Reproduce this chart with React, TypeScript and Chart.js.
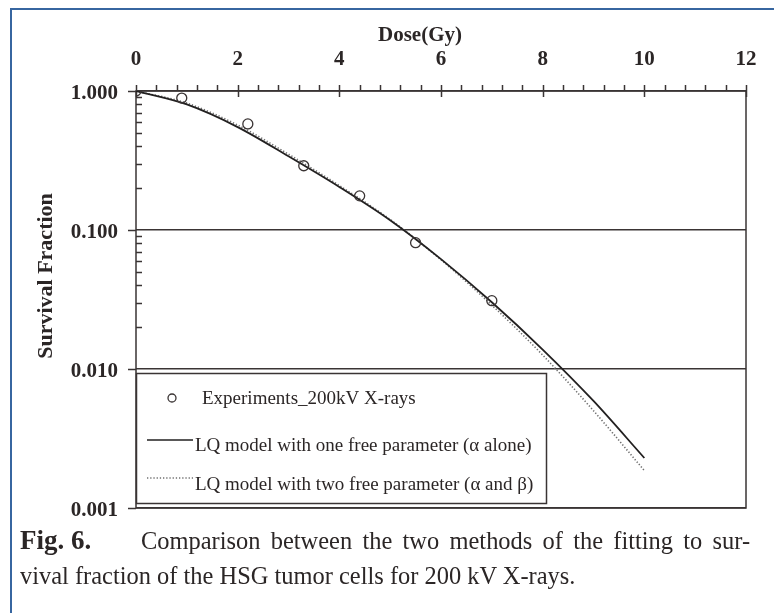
import React, { useEffect, useRef } from "react";
import { Chart, registerables } from "chart.js";

Chart.register(...registerables);

// ---- data ----
const expDose = [0, 0.9, 2.2, 3.3, 4.4, 5.5, 7.0];
const expSF = [1.0, 0.89, 0.58, 0.29, 0.176, 0.081, 0.031];

const curveDose = [0, 1, 2, 3, 4, 5, 6, 7, 8, 9, 10];
const oneParamSF = [1, 0.8, 0.55, 0.339, 0.204, 0.1175, 0.0617, 0.0302, 0.0138, 0.00589, 0.00229];
const twoParamSF = [1, 0.818, 0.569, 0.351, 0.209, 0.119, 0.061, 0.0288, 0.0126, 0.00501, 0.00186];

const xMin = 0;
const xMax = 12;
const xStep = 2;
const xMinorStep = 0.4;
const yTickValues = [0.001, 0.01, 0.1, 1];
const yTickLabels = ["0.001", "0.010", "0.100", "1.000"];

const seriesLabels = [
  "Experiments_200kV X-rays",
  "LQ model with one free parameter (\u03B1 alone)",
  "LQ model with two free parameter (\u03B1 and \u03B2)",
];
const xTitle = "Dose(Gy)";
const yTitle = "Survival Fraction";
const captionBold = "Fig. 6.";
const captionLine1 = "Comparison between the two methods of the fitting to sur-";
const captionLine2 = "vival fraction of the HSG tumor cells for 200 kV X-rays.";

// ---- styles ----
const FONT = "'Liberation Serif', 'Times New Roman', serif";
const INK = "#2b2626";
const AXIS = "#3a3434";
const DOT = "#707070";

const decorPlugin = {
  id: "decor",
  beforeDatasetsDraw(chart: any) {
    const { ctx, chartArea: a, scales } = chart;
    const x = scales.x;
    const y = scales.y;
    ctx.save();
    ctx.strokeStyle = AXIS;
    ctx.lineWidth = 1.5;
    ctx.strokeRect(a.left, a.top, a.right - a.left, a.bottom - a.top);
    ctx.beginPath();
    // x ticks (top axis)
    const n = Math.round((xMax - xMin) / xMinorStep);
    for (let i = 0; i <= n; i++) {
      const v = xMin + i * xMinorStep;
      const px = Math.round(x.getPixelForValue(v)) + 0.5;
      const r = v / xStep;
      const major = Math.abs(r - Math.round(r)) < 1e-6;
      ctx.moveTo(px, a.top - 6);
      ctx.lineTo(px, a.top + (major ? 6 : 0));
    }
    // y ticks
    for (let d = 0; d < yTickValues.length; d++) {
      const dec = yTickValues[d];
      const py = Math.round(y.getPixelForValue(dec)) + 0.5;
      ctx.moveTo(a.left - 8, py);
      ctx.lineTo(a.left, py);
      if (d < yTickValues.length - 1) {
        for (let m = 2; m <= 9; m++) {
          const pm = Math.round(y.getPixelForValue(dec * m)) + 0.5;
          ctx.moveTo(a.left, pm);
          ctx.lineTo(a.left + 6, pm);
        }
      }
    }
    ctx.stroke();

    // tick labels
    ctx.fillStyle = INK;
    ctx.font = `bold 21px ${FONT}`;
    ctx.textBaseline = "alphabetic";
    ctx.textAlign = "center";
    for (const t of x.ticks) {
      ctx.fillText(String(t.label), x.getPixelForValue(t.value), a.top - 26);
    }
    ctx.textAlign = "right";
    yTickValues.forEach((v, i) => {
      ctx.fillText(yTickLabels[i], a.left - 18, y.getPixelForValue(v) + 8);
    });

    // axis titles
    ctx.textAlign = "center";
    ctx.fillText(xTitle, 420, 41);
    ctx.save();
    ctx.translate(52, 276);
    ctx.rotate(-Math.PI / 2);
    ctx.font = `bold 22px ${FONT}`;
    ctx.fillText(yTitle, 0, 0);
    ctx.restore();
    ctx.restore();
  },
  afterDatasetsDraw(chart: any) {
    const { ctx, chartArea: a } = chart;
    const L = a.left;
    const T = 373;
    const R = 546;
    const B = 503;
    ctx.save();
    ctx.fillStyle = "#ffffff";
    ctx.fillRect(L, T, R - L, B - T);
    ctx.strokeStyle = AXIS;
    ctx.lineWidth = 1.5;
    ctx.strokeRect(L + 0.5, T + 0.5, R - L, B - T);

    const ds = chart.data.datasets;
    // entry 1: circle
    ctx.beginPath();
    ctx.arc(172, 398, 4, 0, Math.PI * 2);
    ctx.strokeStyle = ds[0].borderColor;
    ctx.lineWidth = 1.3;
    ctx.stroke();
    // entry 2: solid line
    ctx.beginPath();
    ctx.moveTo(147, 440);
    ctx.lineTo(193, 440);
    ctx.strokeStyle = ds[1].borderColor;
    ctx.lineWidth = 1.6;
    ctx.stroke();
    // entry 3: dotted
    ctx.beginPath();
    ctx.setLineDash(ds[2].borderDash);
    ctx.moveTo(147, 478);
    ctx.lineTo(193, 478);
    ctx.strokeStyle = ds[2].borderColor;
    ctx.lineWidth = 1.4;
    ctx.stroke();
    ctx.setLineDash([]);

    ctx.fillStyle = INK;
    ctx.font = `19px ${FONT}`;
    ctx.textAlign = "left";
    ctx.textBaseline = "alphabetic";
    ctx.fillText(ds[0].label, 202, 404);
    ctx.fillText(ds[1].label, 195, 451);
    ctx.fillText(ds[2].label, 195, 490);
    ctx.restore();
  },
};

export default function App() {
  const ref = useRef<HTMLCanvasElement | null>(null);

  useEffect(() => {
    if (!ref.current) return;
    const chart = new Chart(ref.current, {
      type: "scatter",
      data: {
        datasets: [
          {
            label: seriesLabels[0],
            data: expDose.map((d, i) => ({ x: d, y: expSF[i] })),
            showLine: false,
            pointStyle: "circle",
            pointRadius: 5,
            pointBorderWidth: 1.3,
            borderColor: "#3a3434",
            backgroundColor: "rgba(255,255,255,0)",
            order: 0,
          },
          {
            label: seriesLabels[1],
            data: curveDose.map((d, i) => ({ x: d, y: oneParamSF[i] })),
            showLine: true,
            pointRadius: 0,
            borderColor: "#222020",
            borderWidth: 1.8,
            cubicInterpolationMode: "monotone",
            order: 1,
          } as any,
          {
            label: seriesLabels[2],
            data: curveDose.map((d, i) => ({ x: d, y: twoParamSF[i] })),
            showLine: true,
            pointRadius: 0,
            borderColor: DOT,
            borderWidth: 1.6,
            borderDash: [1.3, 1.9],
            cubicInterpolationMode: "monotone",
            order: 2,
          } as any,
        ],
      },
      options: {
        responsive: false,
        animation: false,
        devicePixelRatio: 1,
        layout: { padding: { left: 0, top: 0, right: 28, bottom: 105 } },
        plugins: { legend: { display: false }, tooltip: { enabled: false } },
        scales: {
          x: {
            type: "linear",
            position: "top",
            min: xMin,
            max: xMax,
            afterFit: (s: any) => {
              s.height = 91;
              s.paddingLeft = 0;
              s.paddingRight = 0;
            },
            ticks: { stepSize: xStep, display: false },
            grid: { display: false, drawTicks: false },
            border: { display: false },
          },
          y: {
            type: "logarithmic",
            position: "left",
            min: yTickValues[0],
            max: yTickValues[yTickValues.length - 1],
            afterFit: (s: any) => {
              s.width = 136;
              s.paddingTop = 0;
              s.paddingBottom = 0;
            },
            afterBuildTicks: (s: any) => {
              s.ticks = yTickValues.map((v) => ({ value: v }));
            },
            ticks: { display: false },
            grid: { display: true, drawTicks: false, color: AXIS, lineWidth: 1.4 },
            border: { display: false },
          },
        },
      },
      plugins: [decorPlugin],
    });
    return () => chart.destroy();
  }, []);

  const capFont = `26px ${FONT}`;
  return (
    <div
      style={{
        position: "fixed",
        left: 0,
        top: 0,
        width: 774,
        height: 613,
        background: "#fff",
        overflow: "hidden",
      }}
    >
      <canvas ref={ref} width={774} height={613} style={{ position: "absolute", left: 0, top: 0 }} />
      <div
        style={{
          position: "absolute",
          left: 10,
          top: 8,
          width: 780,
          height: 620,
          borderTop: "2px solid #3766a0",
          borderLeft: "2px solid #3766a0",
          pointerEvents: "none",
        }}
      />
      <div
        style={{
          position: "absolute",
          left: 20,
          top: 523,
          font: `bold 27px ${FONT}`,
          lineHeight: "35px",
          color: INK,
          whiteSpace: "nowrap",
        }}
      >
        {captionBold}
      </div>
      <div
        style={{
          position: "absolute",
          left: 141,
          top: 523,
          width: 648,
          font: capFont,
          lineHeight: "35px",
          color: INK,
          textAlign: "justify",
          textAlignLast: "justify",
          transform: "scaleX(0.94)",
          transformOrigin: "0 0",
        }}
      >
        {captionLine1}
      </div>
      <div
        style={{
          position: "absolute",
          left: 20,
          top: 558,
          font: capFont,
          lineHeight: "35px",
          color: INK,
          whiteSpace: "nowrap",
          transform: "scaleX(0.94)",
          transformOrigin: "0 0",
        }}
      >
        {captionLine2}
      </div>
    </div>
  );
}
